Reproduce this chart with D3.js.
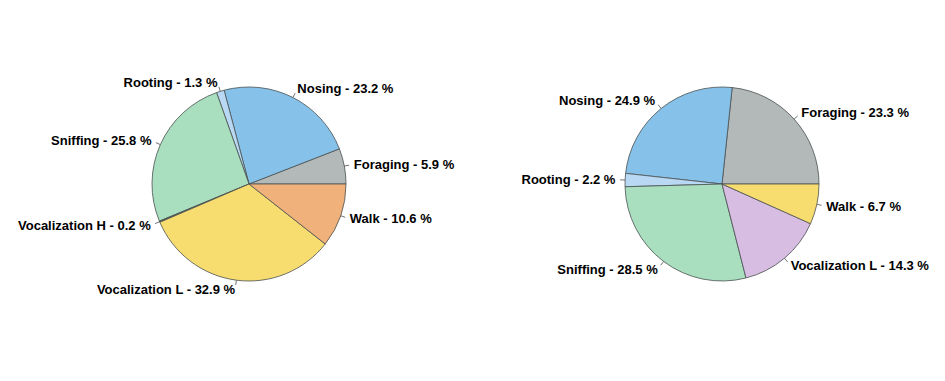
<!DOCTYPE html>
<html><head><meta charset="utf-8">
<script src="https://cdn.jsdelivr.net/npm/d3@7"></script>
<style>body{margin:0;background:#fff}svg{display:block}</style>
</head><body>
<script>
const leftCategories = ["Foraging","Nosing","Rooting","Sniffing","Vocalization H","Vocalization L","Walk"];
const leftValues = [5.9,23.2,1.3,25.8,0.2,32.9,10.6];
const leftColors = ["#b3b9b9","#85c1e9","#b8d8f4","#a9dfbf","#3d5a4a","#f7dc6f","#f0b27a"];

const rightCategories = ["Foraging","Nosing","Rooting","Sniffing","Vocalization L","Walk"];
const rightValues = [23.3,24.9,2.2,28.5,14.3,6.7];
const rightColors = ["#b3b9b9","#85c1e9","#b8d8f4","#a9dfbf","#d7bde2","#f7dc6f"];

const W = 945, H = 381, R = 97;
const svg = d3.select("body").append("svg").attr("width", W).attr("height", H);

function drawPie(cx, cy, cats, vals, cols) {
  const data = cats.map((c, i) => ({cat: c, val: vals[i], col: cols[i]}));
  const pie = d3.pie().sort(null).value(d => d.val)
    .startAngle(Math.PI / 2).endAngle(Math.PI / 2 - 2 * Math.PI);
  const arcs = pie(data);
  const arc = d3.arc().innerRadius(0).outerRadius(R);
  const g = svg.append("g").attr("transform", `translate(${cx},${cy})`);
  g.selectAll("path").data(arcs).join("path")
    .attr("d", arc).attr("fill", d => d.data.col)
    .attr("stroke", "#4a5050").attr("stroke-width", 0.8);
  arcs.forEach(d => {
    const m = (d.startAngle + d.endAngle) / 2;
    const sx = Math.sin(m), sy = -Math.cos(m);
    g.append("line")
      .attr("x1", sx * R).attr("y1", sy * R)
      .attr("x2", sx * R * 1.05).attr("y2", sy * R * 1.05)
      .attr("stroke", "#4a5050").attr("stroke-width", 0.8);
    g.append("text")
      .attr("x", sx * R * 1.1).attr("y", sy * R * 1.1)
      .attr("dy", "0.35em")
      .attr("text-anchor", sx >= 0 ? "start" : "end")
      .attr("font-family", "Liberation Sans, Arial, sans-serif")
      .attr("font-weight", "bold").attr("font-size", 13)
      .attr("fill", "#000")
      .text(`${d.data.cat} - ${d.data.val} %`);
  });
}
drawPie(249, 184, leftCategories, leftValues, leftColors);
drawPie(722, 184, rightCategories, rightValues, rightColors);
</script>
</body></html>
